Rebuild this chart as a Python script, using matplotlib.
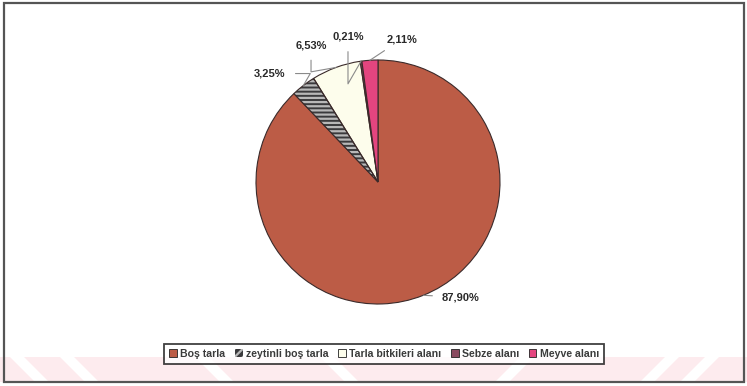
import numpy as np
import matplotlib
matplotlib.use("Agg")
import matplotlib.pyplot as plt
from matplotlib.patches import Rectangle, Wedge, Polygon, Patch

plt.rcParams['font.family'] = ['Liberation Sans', 'DejaVu Sans']
plt.rcParams['hatch.linewidth'] = 1.6

categories = ["Boş tarla", "zeytinli boş tarla", "Tarla bitkileri alanı",
              "Sebze alanı", "Meyve alanı"]
shares = [87.90, 3.25, 6.53, 0.21, 2.11]
value_labels = ["87,90%", "3,25%", "6,53%", "0,21%", "2,11%"]
colors = ["#BC5C46", "#3A3A3C", "#FDFDEC", "#8A4A60", "#E4457F"]

W, H = 747, 386
fig = plt.figure(figsize=(W / 100, H / 100), dpi=100)
fig.patch.set_facecolor("white")

# faint watermark band along the bottom
band = fig.add_axes([0, 0, 1, 1], zorder=0)
band.set_xlim(0, W)
band.set_ylim(H, 0)
band.axis("off")
band.add_patch(Rectangle((0, 357), W, 25, facecolor="#FDEBEE", edgecolor="none"))
for x0, slope in [(10, 1), (60, 1), (195, 1), (320, 1), (520, -1), (665, -1), (705, -1)]:
    band.add_patch(Polygon([(x0, 357), (x0 + 14, 357),
                            (x0 + 14 + slope * 25, 382), (x0 + slope * 25, 382)],
                           facecolor="white", edgecolor="none"))

# outer frame
band.add_patch(Rectangle((4, 3), 740, 379, facecolor="none",
                         edgecolor="#555555", lw=1.6))

# pie axes: centre (378, 182) px, radius 122 px
R = 122
S = 180
cx, cy = 378, 182
ax = fig.add_axes([(cx - S) / W, (H - cy - S) / H, 2 * S / W, 2 * S / H], zorder=2)

wedges, _ = ax.pie(shares, colors=colors, startangle=90, counterclock=False,
                   radius=1.0,
                   wedgeprops=dict(edgecolor="#3A2A2A", linewidth=0.8))
lim = S / R
ax.set_xlim(-lim, lim)
ax.set_ylim(-lim, lim)
ax.axis("off")

# hatched slice: light stripes on dark ground, outline drawn separately
hw = wedges[1]
hw.set_hatch("----")
hw.set_edgecolor("#B8B8B8")
hw.set_linewidth(0)
ax.add_patch(Wedge(hw.center, hw.r, hw.theta1, hw.theta2, facecolor="none",
                   edgecolor="#3A2A2A", lw=0.8, zorder=3))

# value labels with leader lines
label_pos = [(0.68, -0.945), (-0.885, 0.889), (-0.549, 1.119),
             (-0.246, 1.189), (0.197, 1.172)]
conn = ["arc3", "angle,angleA=0,angleB=60", "angle,angleA=-90,angleB=10",
        "angle,angleA=-90,angleB=60", "arc3"]
for w, lab, pos, cs in zip(wedges, value_labels, label_pos, conn):
    mid = np.deg2rad((w.theta1 + w.theta2) / 2)
    xy = (np.cos(mid), np.sin(mid))
    ax.annotate(lab, xy=xy, xytext=pos, ha="center", va="center",
                fontsize=8, fontweight="bold", color="#2A2A2A",
                arrowprops=dict(arrowstyle="-", color="#8A8A8A", lw=0.8,
                                connectionstyle=cs, shrinkA=5, shrinkB=0))

# legend
handles = []
for i, (c, n) in enumerate(zip(colors, categories)):
    if i == 1:
        handles.append(Patch(facecolor=c, edgecolor="#B8B8B8", hatch="////", label=n, lw=0))
    else:
        handles.append(Patch(facecolor=c, edgecolor="#222222", label=n, lw=0.6))
leg = fig.legend(handles=handles, loc="center", ncol=5,
                 bbox_to_anchor=(384 / W, 1 - 354 / H),
                 prop=dict(weight="bold", size=7.6), frameon=True, fancybox=False,
                 handlelength=0.75, handleheight=0.75, handletextpad=0.3,
                 columnspacing=0.9, borderpad=0.45, borderaxespad=0)
leg.get_frame().set_edgecolor("#111111")
leg.get_frame().set_linewidth(1.3)
for t in leg.get_texts():
    t.set_color("#3A3A3A")
leg.set_zorder(5)

fig.savefig("out.png", dpi=100, facecolor="white")
